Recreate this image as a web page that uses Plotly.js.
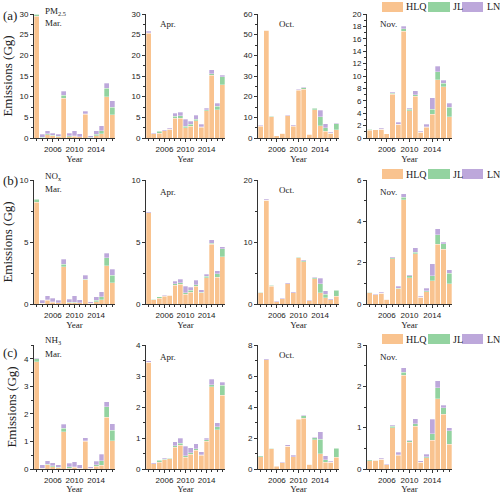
<!DOCTYPE html>
<html><head><meta charset="utf-8">
<script src="https://cdn.plot.ly/plotly-3.0.1.min.js"></script>
<style>html,body{margin:0;padding:0;background:#fff}</style>
</head><body><div id="chart" style="width:500px;height:494px"></div>
<script>
const years = [2003,2004,2005,2006,2007,2008,2009,2010,2011,2012,2013,2014,2015,2016,2017];
const seriesNames = ['HLQ','JL','LN'];
const months = ['Mar.','Apr.','Oct.','Nov.'];
const pollutants = ['PM<sub>2.5</sub>','NO<sub>x</sub>','NH<sub>3</sub>'];
const rowLabels = ['(a)','(b)','(c)'];
const xTickYears = [2006,2010,2014];

// PM2.5
const pm25_mar_hlq = [29.5,0.1,0.8,0.5,0.3,9.6,0.3,0.4,0.3,5.7,0.1,0.6,1.0,10.0,5.6];
const pm25_mar_jl  = [0.4,0.05,0.2,0.2,0.1,0.7,0.2,0.1,0.05,0.2,0.05,0.3,0.7,2.0,1.9];
const pm25_mar_ln  = [0.1,0.7,0.8,0.5,0.5,1.0,0.7,1.2,0.65,0.6,0.35,0.9,1.3,1.2,1.5];
const pm25_apr_hlq = [25.4,1.0,1.2,1.7,2.1,4.8,4.8,2.5,2.9,4.2,2.6,6.6,15.2,6.8,12.9];
const pm25_apr_jl  = [0.1,0.05,0.4,0.1,0.05,0.5,0.6,0.3,0.4,0.3,0.1,0.2,0.3,0.9,1.9];
const pm25_apr_ln  = [0.3,0.15,0.1,0.2,0.15,0.7,0.8,1.7,0.7,1.0,0.6,0.4,1.0,0.7,0.4];
const pm25_oct_hlq = [5.8,52.2,10.4,1.0,2.2,10.7,5.8,23.0,23.6,1.9,13.6,6.0,3.2,2.2,4.0];
const pm25_oct_jl  = [0.1,0.0,0.2,0.0,0.0,0.1,0.1,0.3,0.7,0.0,0.8,4.4,1.7,0.2,3.0];
const pm25_oct_ln  = [0.2,0.3,0.1,0.1,0.2,0.3,0.5,0.3,0.3,0.2,0.2,3.1,2.0,0.5,0.2];
const pm25_nov_hlq = [1.25,1.3,1.45,0.65,7.05,2.2,17.2,4.4,6.7,0.95,1.75,3.8,9.4,8.3,3.4];
const pm25_nov_jl  = [0.15,0.0,0.0,0.0,0.15,0.05,0.4,0.2,0.3,0.0,0.1,0.8,1.3,0.5,1.6];
const pm25_nov_ln  = [0.05,0.05,0.15,0.05,0.2,0.3,0.4,0.2,0.6,0.15,0.4,1.9,0.9,0.55,0.6];
// NOx
const nox_mar_hlq = [8.2,0.05,0.3,0.15,0.1,3.0,0.1,0.1,0.1,1.95,0.05,0.2,0.35,3.1,1.7];
const nox_mar_jl  = [0.25,0.02,0.05,0.05,0.02,0.2,0.05,0.05,0.0,0.05,0.0,0.1,0.25,0.65,0.6];
const nox_mar_ln  = [0.05,0.25,0.3,0.25,0.18,0.4,0.25,0.5,0.25,0.3,0.15,0.3,0.4,0.35,0.5];
const nox_apr_hlq = [7.35,0.35,0.45,0.63,0.7,1.5,1.6,0.8,0.95,1.45,0.9,2.1,4.8,2.15,3.8];
const nox_apr_jl  = [0.0,0.02,0.12,0.02,0.02,0.12,0.1,0.1,0.15,0.1,0.03,0.12,0.1,0.3,0.65];
const nox_apr_ln  = [0.1,0.03,0.03,0.05,0.03,0.2,0.3,0.55,0.25,0.38,0.2,0.18,0.3,0.25,0.15];
const nox_oct_hlq = [1.8,16.75,2.9,0.4,0.85,3.25,1.8,7.5,6.85,0.55,4.05,1.85,1.0,0.65,1.25];
const nox_oct_jl  = [0.1,0.0,0.15,0.0,0.0,0.0,0.0,0.08,0.1,0.0,0.2,1.45,0.55,0.05,1.0];
const nox_oct_ln  = [0.0,0.15,0.0,0.03,0.05,0.15,0.2,0.07,0.2,0.05,0.1,0.85,0.6,0.15,0.05];
const nox_nov_hlq = [0.55,0.45,0.52,0.22,2.18,0.75,5.05,1.28,2.42,0.33,0.6,1.12,2.9,2.65,0.98];
const nox_nov_jl  = [0.02,0.0,0.0,0.0,0.05,0.02,0.12,0.08,0.08,0.0,0.05,0.25,0.45,0.27,0.52];
const nox_nov_ln  = [0.01,0.03,0.06,0.02,0.06,0.08,0.16,0.05,0.22,0.04,0.12,0.57,0.3,0.08,0.15];
// NH3
const nh3_mar_hlq = [3.9,0.02,0.15,0.08,0.05,1.35,0.03,0.07,0.03,1.0,0.02,0.1,0.13,1.88,1.03];
const nh3_mar_jl  = [0.1,0.01,0.03,0.04,0.02,0.13,0.05,0.02,0.0,0.03,0.0,0.06,0.17,0.38,0.37];
const nh3_mar_ln  = [0.02,0.12,0.12,0.1,0.08,0.15,0.12,0.18,0.12,0.1,0.06,0.12,0.24,0.18,0.25];
const nh3_apr_hlq = [3.45,0.17,0.22,0.3,0.33,0.7,0.77,0.38,0.48,0.6,0.44,0.9,2.65,1.27,2.38];
const nh3_apr_jl  = [0.0,0.0,0.06,0.02,0.01,0.05,0.06,0.05,0.05,0.06,0.02,0.04,0.06,0.1,0.32];
const nh3_apr_ln  = [0.05,0.03,0.02,0.03,0.03,0.13,0.17,0.3,0.16,0.15,0.1,0.06,0.18,0.13,0.1];
const nh3_oct_hlq = [0.8,7.05,1.3,0.17,0.4,1.48,0.8,3.2,3.28,0.3,1.9,1.0,0.45,0.42,0.75];
const nh3_oct_jl  = [0.05,0.0,0.05,0.03,0.0,0.0,0.0,0.03,0.15,0.0,0.12,0.92,0.15,0.03,0.6];
const nh3_oct_ln  = [0.0,0.05,0.0,0.0,0.05,0.07,0.1,0.02,0.05,0.02,0.03,0.48,0.25,0.05,0.03];
const nh3_nov_hlq = [0.2,0.21,0.23,0.1,1.0,0.33,2.27,0.65,1.04,0.16,0.27,0.7,1.7,1.33,0.6];
const nh3_nov_jl  = [0.02,0.0,0.0,0.0,0.03,0.01,0.07,0.03,0.06,0.0,0.03,0.15,0.27,0.15,0.33];
const nh3_nov_ln  = [0.0,0.01,0.03,0.02,0.03,0.06,0.11,0.02,0.12,0.04,0.06,0.35,0.17,0.06,0.07];

const panelData = [
  [[pm25_mar_hlq,pm25_mar_jl,pm25_mar_ln],[pm25_apr_hlq,pm25_apr_jl,pm25_apr_ln],[pm25_oct_hlq,pm25_oct_jl,pm25_oct_ln],[pm25_nov_hlq,pm25_nov_jl,pm25_nov_ln]],
  [[nox_mar_hlq,nox_mar_jl,nox_mar_ln],[nox_apr_hlq,nox_apr_jl,nox_apr_ln],[nox_oct_hlq,nox_oct_jl,nox_oct_ln],[nox_nov_hlq,nox_nov_jl,nox_nov_ln]],
  [[nh3_mar_hlq,nh3_mar_jl,nh3_mar_ln],[nh3_apr_hlq,nh3_apr_jl,nh3_apr_ln],[nh3_oct_hlq,nh3_oct_jl,nh3_oct_ln],[nh3_nov_hlq,nh3_nov_jl,nh3_nov_ln]]
];

// styling / layout
const colors = ['#F9C38F','#93D3A0','#BDA8DB'];
const W = 500, H = 494;
const colPx = [[34,115],[146,225],[258,339],[367,452]];
const rowPx = [[14,138],[180,304],[345,469]];
const yRanges = [[[0,30],[0,30],[0,60],[0,20]],[[0,10],[0,10],[0,20],[0,6]],[[0,4.5],[0,4],[0,8],[0,3]]];
const yDticks = [[5,5,10,2],[5,5,10,2],[1,1,2,1]];
const monthPos = [
  [[43,23],[158,24],[277,24],[378,24]],
  [[43,189],[158,192],[277,190],[378,192]],
  [[43,354],[158,357],[277,355],[378,357]]
];
const pollPos = [[43,11],[43,176],[43,340]];
const rowLabelPos = [[1,16],[1,181],[1,352]];
const legendY = [7,174,339];
const legendSw = [[382,403],[428,450],[462,483]];
const legendTx = [404,451,485];

const SERIF = 'Liberation Serif, Times New Roman, serif';
const SANS = 'Liberation Sans, Arial, sans-serif';
const AX = '#333';

const px = x => x / W;
const py = y => 1 - y / H;

const traces = [];
const layout = {
  width: W, height: H,
  margin: {l:0, r:0, t:0, b:0},
  paper_bgcolor: '#fff', plot_bgcolor: '#fff',
  barmode: 'stack', bargap: 0.08,
  showlegend: false,
  annotations: [], shapes: []
};

for (let r = 0; r < 3; r++) {
  for (let c = 0; c < 4; c++) {
    const i = r * 4 + c + 1;
    const xa = 'x' + i, ya = 'y' + i;
    for (let s = 0; s < 3; s++) {
      traces.push({
        type: 'bar', x: years, y: panelData[r][c][s], name: seriesNames[s],
        xaxis: xa, yaxis: ya, showlegend: false,
        marker: {color: colors[s], line: {color: 'rgba(255,255,255,0.6)', width: 0.5}},
        hoverinfo: 'x+y+name'
      });
    }
    layout['xaxis' + i] = {
      domain: [px(colPx[c][0]), px(colPx[c][1])], anchor: ya,
      range: [2002.5, 2017.5], tickmode: 'array', tickvals: xTickYears,
      ticks: 'outside', ticklen: 3, tickcolor: AX, tickwidth: 1,
      showline: true, linecolor: AX, linewidth: 1, showgrid: false, zeroline: false,
      tickfont: {family: SANS, size: 8, color: '#222'},
      minor: {ticks: 'outside', ticklen: 2, dtick: 1, tick0: 2003, tickcolor: AX},
      title: {text: 'Year', font: {family: SERIF, size: 9, color: '#222'}, standoff: 2}
    };
    const dt = yDticks[r][c];
    const yax = {
      domain: [py(rowPx[r][1]), py(rowPx[r][0])], anchor: xa,
      range: yRanges[r][c], tick0: 0, dtick: dt,
      ticks: 'outside', ticklen: 3, tickcolor: AX, tickwidth: 1,
      showline: true, linecolor: AX, linewidth: 1, showgrid: false, zeroline: false,
      tickfont: {family: SANS, size: 8, color: '#222'},
      minor: {ticks: 'outside', ticklen: 2, dtick: dt / 2, tick0: 0, tickcolor: AX}
    };
    if (c === 0) {
      yax.title = {text: 'Emissions (Gg)', font: {family: SERIF, size: 13, color: '#222'}, standoff: 4};
    }
    layout['yaxis' + i] = yax;
    layout.annotations.push({
      xref: 'paper', yref: 'paper', x: px(monthPos[r][c][0]), y: py(monthPos[r][c][1]),
      xanchor: 'left', yanchor: 'middle', showarrow: false, text: months[c],
      font: {family: SERIF, size: 9, color: '#222'}
    });
  }
  layout.annotations.push({
    xref: 'paper', yref: 'paper', x: px(pollPos[r][0]), y: py(pollPos[r][1]),
    xanchor: 'left', yanchor: 'middle', showarrow: false, text: pollutants[r],
    font: {family: SERIF, size: 9, color: '#222'}
  });
  layout.annotations.push({
    xref: 'paper', yref: 'paper', x: px(rowLabelPos[r][0]), y: py(rowLabelPos[r][1]),
    xanchor: 'left', yanchor: 'middle', showarrow: false, text: rowLabels[r],
    font: {family: SERIF, size: 13, color: '#222'}
  });
  for (let s = 0; s < 3; s++) {
    layout.shapes.push({
      type: 'rect', xref: 'paper', yref: 'paper',
      x0: px(legendSw[s][0]), x1: px(legendSw[s][1]),
      y0: py(legendY[r] + 5), y1: py(legendY[r] - 5),
      fillcolor: colors[s], line: {width: 0}
    });
    layout.annotations.push({
      xref: 'paper', yref: 'paper', x: px(legendTx[s]), y: py(legendY[r]),
      xanchor: 'left', yanchor: 'middle', showarrow: false, text: seriesNames[s],
      font: {family: SERIF, size: 10, color: '#222'}
    });
  }
}

Plotly.newPlot('chart', traces, layout, {displayModeBar: false, staticPlot: true});
</script>
</body></html>
